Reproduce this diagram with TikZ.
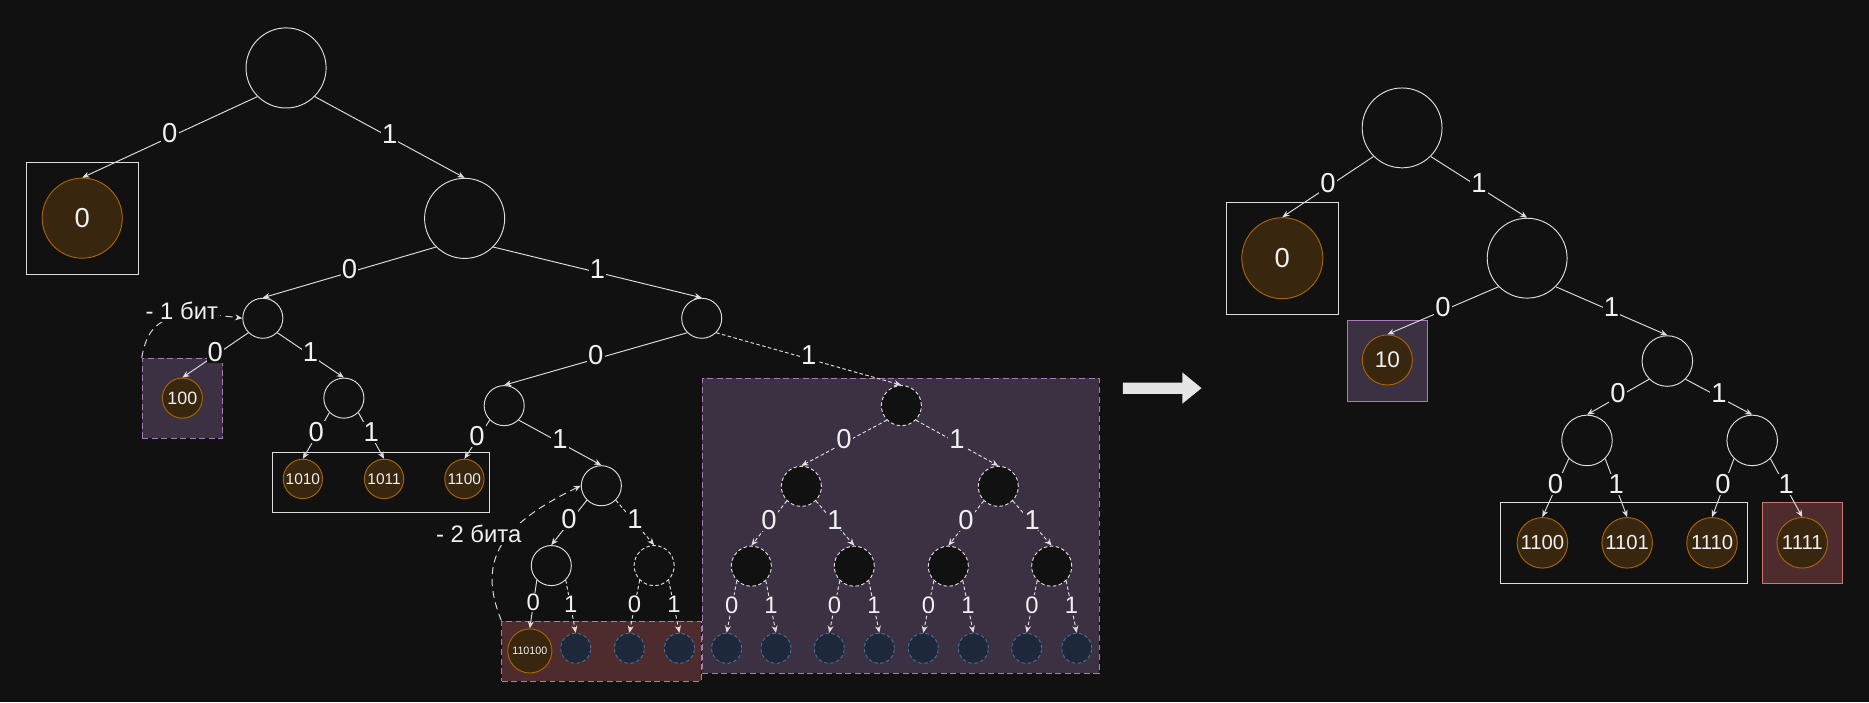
\documentclass[tikz,border=0pt]{standalone}
\usepackage{fontspec}
\setmainfont{Liberation Sans}
\usetikzlibrary{arrows.meta}
\definecolor{bg}{HTML}{111111}
\definecolor{ln}{HTML}{DDDDDD}
\definecolor{txt}{HTML}{F0F0F0}
\definecolor{leaffill}{HTML}{38260F}
\definecolor{leafdraw}{HTML}{A86400}
\definecolor{purfill}{HTML}{3C3043}
\definecolor{purdraw}{HTML}{A57CB5}
\definecolor{redfill}{HTML}{4E2C2E}
\definecolor{reddraw}{HTML}{CF7373}
\definecolor{bluefill}{HTML}{1D293B}
\definecolor{bluedraw}{HTML}{4D6A94}

\begin{document}
\begin{tikzpicture}[x=1pt,y=-1pt,
  >={Stealth[length=6pt,width=5pt]},
  vert/.style={circle,draw=ln,line width=0.8pt,inner sep=0pt,minimum size=#1},
  ghost/.style={vert=#1,dash pattern=on 3pt off 2pt,fill=bg},
  leaf/.style={circle,draw=leafdraw,fill=leaffill,line width=0.8pt,inner sep=0pt,minimum size=#1,text=txt},
  slot/.style={circle,draw=bluedraw,fill=bluefill,line width=0.8pt,dash pattern=on 3pt off 2pt,inner sep=0pt,minimum size=25.2pt},
  link/.style={draw=ln,line width=0.8pt,->},
  dlink/.style={link,dash pattern=on 3pt off 2pt},
  bit/.style={fill=bg,text=txt,inner sep=1pt,yshift=3pt,font=\fontsize{23}{23}\selectfont},
  sbit/.style={bit,yshift=-1.5pt,font=\fontsize{20}{20}\selectfont},
  bitp/.style={bit,fill=purfill},
  sbitp/.style={sbit,fill=purfill},
  note/.style={fill=bg,text=txt,inner sep=2pt,font=\fontsize{20}{20}\selectfont},
  wbox/.style={draw=ln,line width=0.8pt,inner sep=0pt},
  pbox/.style={draw=purdraw,fill=purfill,line width=0.8pt,inner sep=0pt},
  rbox/.style={draw=reddraw,fill=redfill,line width=0.8pt,inner sep=0pt},
  dashbox/.style={dash pattern=on 5pt off 3pt}]

  \fill[bg] (0,0) rectangle (1568,589);

  % boxes
  \node[wbox,minimum width=94.2pt,minimum height=94pt] (box0) at (69.3,183) {};
  \node[pbox,dashbox,minimum width=67.4pt,minimum height=67.1pt] (box100) at (153,334.15) {};
  \node[wbox,minimum width=182.1pt,minimum height=50.4pt] (boxmid) at (319.45,404.6) {};
  \node[rbox,dashbox,minimum width=167.1pt,minimum height=50.3pt] (boxred) at (504.55,546.15) {};
  \node[pbox,dashbox,minimum width=332.8pt,minimum height=247.5pt] (boxsub) at (755.6,441.15) {};
  \node[wbox,minimum width=93.8pt,minimum height=94.1pt] (rbox0) at (1075.9,216.65) {};
  \node[pbox,minimum width=67pt,minimum height=67.4pt] (rbox10) at (1164.1,302.7) {};
  \node[wbox,minimum width=207pt,minimum height=67.9pt] (rboxlow) at (1362.5,455.85) {};
  \node[rbox,minimum width=67.9pt,minimum height=67.4pt] (rboxred) at (1512.15,455.6) {};

  % left tree
  \node[vert=67.2pt] (r) at (240,57) {};
  \node[leaf=67.2pt,font=\fontsize{23}{23}\selectfont] (l0) at (69,183) {0};
  \node[vert=67.2pt] (r1) at (389.8,183.2) {};
  \node[vert=33.6pt] (r10) at (220.5,267) {};
  \node[vert=33.6pt] (r11) at (588.7,267) {};
  \node[leaf=33.6pt,font=\fontsize{15}{15}\selectfont] (l100) at (153,334) {100};
  \node[vert=33.6pt] (r101) at (288.5,334) {};
  \node[vert=33.6pt] (r110) at (423,340.3) {};
  \node[leaf=33pt,font=\fontsize{13}{13}\selectfont] (l1010) at (254.1,401.8) {1010};
  \node[leaf=33pt,font=\fontsize{13}{13}\selectfont] (l1011) at (322.2,401.8) {1011};
  \node[leaf=33pt,font=\fontsize{13}{13}\selectfont] (l1100) at (389.6,401.8) {1100};
  \node[vert=33.6pt] (r1101) at (504.5,407.5) {};
  \node[vert=33.6pt] (r11010) at (462.5,474.5) {};
  \node[ghost=33.6pt] (r11011) at (548.8,474.5) {};
  \node[leaf=37pt,font=\fontsize{9}{9}\selectfont] (l110100) at (444.5,546.1) {110100};
  \node[slot] (s1) at (483,543.9) {};
  \node[slot] (s2) at (528,543.9) {};
  \node[slot] (s3) at (570,543.9) {};

  \draw[link] (r.south west) -- node[bit] {0} (l0.north);
  \draw[link] (r.south east) -- node[bit] {1} (r1.north);
  \draw[link] (r1.south west) -- node[bit] {0} (r10.north);
  \draw[link] (r1.south east) -- node[bit] {1} (r11.north);
  \draw[link] (r10.south west) -- node[bit] {0} (l100.north);
  \draw[link] (r10.south east) -- node[bit] {1} (r101.north);
  \draw[link] (r101.south west) -- node[bit] {0} (l1010.north);
  \draw[link] (r101.south east) -- node[bit] {1} (l1011.north);
  \draw[link] (r11.south west) -- node[bit] {0} (r110.north);
  \draw[link] (r110.south west) -- node[bit] {0} (l1100.north);
  \draw[link] (r110.south east) -- node[bit] {1} (r1101.north);
  \draw[link] (r1101.south west) -- node[bit] {0} (r11010.north);
  \draw[dlink] (r1101.south east) -- node[bit] {1} (r11011.north);
  \draw[link] (r11010.south west) -- node[sbit] {0} (l110100.north);
  \draw[dlink] (r11010.south east) -- node[sbit] {1} (s1.north);
  \draw[dlink] (r11011.south west) -- node[sbit] {0} (s2.north);
  \draw[dlink] (r11011.south east) -- node[sbit] {1} (s3.north);

  \draw[link,dash pattern=on 6pt off 4pt] (box100.north west) .. controls (124,272) and (135,258) .. node[note,pos=0.6,xshift=7pt,yshift=6pt] {- 1 бит} (r10.west);
  \draw[link,dash pattern=on 6pt off 4pt] (boxred.north west) .. controls (400,470) and (420,440) .. node[note,pos=0.55,xshift=-23pt,yshift=4pt] {- 2 бита} (r1101.west);

  % cut subtree
  \node[ghost=33.6pt] (r111) at (756.2,340.3) {};
  \node[ghost=33.6pt] (q0) at (672.3,408) {};
  \node[ghost=33.6pt] (q1) at (837.5,408) {};
  \foreach \n/\x in {00/630.3,01/716.7,10/795.6,11/882.3}
    \node[ghost=33.6pt] (q\n) at (\x,475) {};
  \foreach \n/\x in {1/609.6,2/651,3/695.7,4/737.7,5/774.6,6/816.6,7/861.3,8/903.3}
    \node[slot] (e\n) at (\x,543.9) {};

  \draw[dlink] (r11.south east) -- node[bit] {1} (r111.north);
  \draw[dlink] (r111.south west) -- node[bitp] {0} (q0.north);
  \draw[dlink] (r111.south east) -- node[bitp] {1} (q1.north);
  \draw[dlink] (q0.south west) -- node[bitp] {0} (q00.north);
  \draw[dlink] (q0.south east) -- node[bitp] {1} (q01.north);
  \draw[dlink] (q1.south west) -- node[bitp] {0} (q10.north);
  \draw[dlink] (q1.south east) -- node[bitp] {1} (q11.north);
  \foreach \n/\a/\b in {00/1/2,01/3/4,10/5/6,11/7/8} {
    \draw[dlink] (q\n.south west) -- node[sbitp] {0} (e\a.north);
    \draw[dlink] (q\n.south east) -- node[sbitp] {1} (e\b.north);
  }

  % arrow
  \fill[txt!95!bg] (942,321) -- (992,321) -- (992,312.5) -- (1008,325.6) -- (992,338.6) -- (992,330.5) -- (942,330.5) -- cycle;

  % right tree
  \node[vert=67pt] (t) at (1176.3,107.3) {};
  \node[leaf=68pt,font=\fontsize{23}{23}\selectfont] (m0) at (1075.8,216.6) {0};
  \node[vert=67pt] (t1) at (1281.2,216.6) {};
  \node[leaf=42pt,font=\fontsize{19}{19}\selectfont] (m10) at (1163.9,302) {10};
  \node[vert=42.4pt] (t11) at (1398.8,302.9) {};
  \node[vert=42.4pt] (t110) at (1331.4,369.5) {};
  \node[vert=42.4pt] (t111) at (1470,369.5) {};
  \foreach \n/\x in {1100/1294,1101/1365.1,1110/1436.3,1111/1512}
    \node[leaf=42.4pt,font=\fontsize{17}{17}\selectfont] (m\n) at (\x,455.4) {\n};

  \draw[link] (t.south west) -- node[bit] {0} (m0.north);
  \draw[link] (t.south east) -- node[bit] {1} (t1.north);
  \draw[link] (t1.south west) -- node[bit] {0} (m10.north);
  \draw[link] (t1.south east) -- node[bit] {1} (t11.north);
  \draw[link] (t11.south west) -- node[bit] {0} (t110.north);
  \draw[link] (t11.south east) -- node[bit] {1} (t111.north);
  \draw[link] (t110.south west) -- node[bit] {0} (m1100.north);
  \draw[link] (t110.south east) -- node[bit] {1} (m1101.north);
  \draw[link] (t111.south west) -- node[bit] {0} (m1110.north);
  \draw[link] (t111.south east) -- node[bit] {1} (m1111.north);
\end{tikzpicture}
\end{document}
